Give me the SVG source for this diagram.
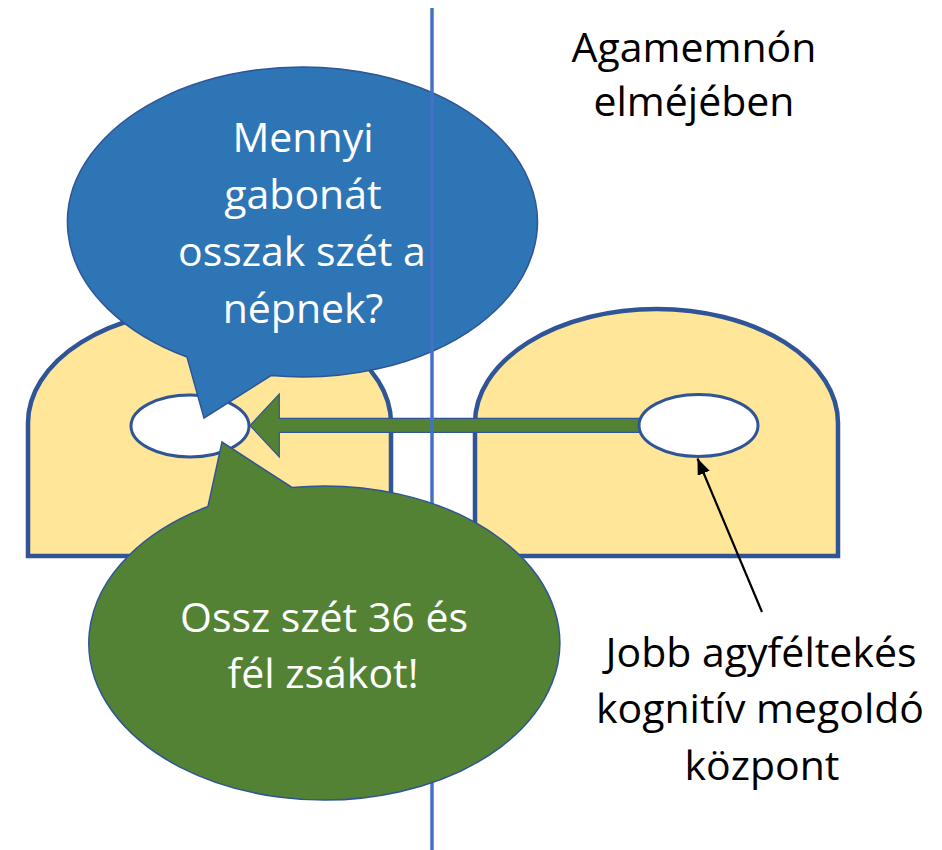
<svg xmlns="http://www.w3.org/2000/svg" width="942" height="850" viewBox="0 0 942 850">
<defs>
<style>
.hemi{fill:#FFE699;stroke:#2F5597;stroke-width:4.5}
.hole{fill:#FFFFFF;stroke:#2F5597;stroke-width:3}
.bub{stroke:#2F5597;stroke-width:1.5}
.t{font-family:"Open Sans","Noto Sans",sans-serif;font-size:41px;text-anchor:middle}
.w{fill:#FFFFFF}
.k{fill:#000000}
</style>
<marker id="ah" viewBox="0 0 16 13" refX="16" refY="6.5" markerWidth="16" markerHeight="13" markerUnits="userSpaceOnUse" orient="auto">
<path d="M0,0 L16,6.5 L0,13 Z" fill="#000"/>
</marker>
</defs>
<rect width="942" height="850" fill="#FFFFFF"/>
<g id="left-hemisphere">
<path class="hemi" d="M28,556 L28,423 A181.5,114 0 0 1 391,423 L391,556 Z"/>
</g>
<g id="right-hemisphere">
<path class="hemi" d="M475,556 L475,423 A181.5,114 0 0 1 838,423 L838,556 Z"/>
</g>
<g id="left-center">
<ellipse class="hole" cx="190" cy="426" rx="59" ry="31"/>
</g>
<g id="connectors">
<path d="M645,418.3 L279.3,418.3 L279.3,394 L250,425.5 L279.3,457 L279.3,432.3 L645,432.3 Z" fill="#548235" stroke="#2F5597" stroke-width="1.2"/>
</g>
<g id="right-center">
<ellipse class="hole" cx="698.5" cy="425.5" rx="59.5" ry="31"/>
</g>
<g id="question-bubble">
<path class="bub" fill="#2E75B6" d="M271,375.6 A235,155 0 1 0 187,357 L204,418 Z"/>
<text class="t w" x="303" y="152">Mennyi</text>
<text class="t w" x="303" y="209">gabonát</text>
<text class="t w" x="302" y="266">osszak szét a</text>
<text class="t w" x="303" y="323">népnek?</text>
</g>
<g id="divider">
<line x1="432" y1="8" x2="432" y2="850" stroke="#4472C4" stroke-width="3.5"/>
</g>
<g id="answer-bubble">
<path class="bub" fill="#548235" d="M208,506.5 A235.5,157 0 1 0 292,487.5 L222,442 Z"/>
<text class="t w" x="324" y="632">Ossz szét 36 és</text>
<text class="t w" x="323" y="688">fél zsákot!</text>
</g>
<g id="pointer">
<line x1="762" y1="612" x2="697.5" y2="458.5" stroke="#000" stroke-width="2.2" marker-end="url(#ah)"/>
</g>
<g id="title">
<text class="t k" x="694" y="62">Agamemnón</text>
<text class="t k" x="694" y="116">elméjében</text>
</g>
<g id="label">
<text class="t k" x="761" y="667">Jobb agyféltekés</text>
<text class="t k" x="760" y="723">kognitív megoldó</text>
<text class="t k" x="762" y="780">központ</text>
</g>
</svg>
